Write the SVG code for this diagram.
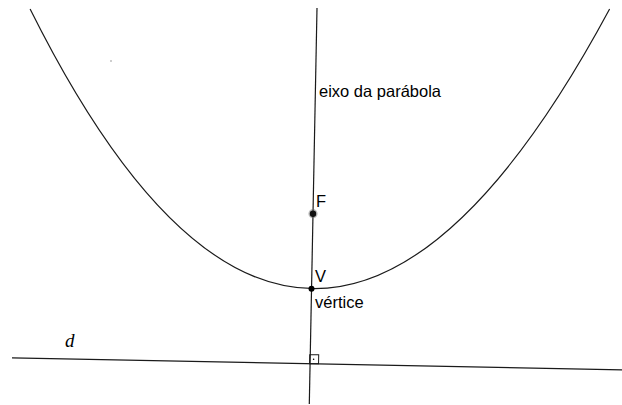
<svg xmlns="http://www.w3.org/2000/svg" width="622" height="405" viewBox="0 0 622 405">
<style>
.ln{fill:none;stroke:#1a1a1a;stroke-width:1.2}
.lbl{font-family:"Liberation Sans",Arial,sans-serif;font-size:16.5px;fill:#000}
.it{font-family:"Liberation Serif","Times New Roman",serif;font-style:italic;font-size:19px;fill:#000}
</style>
<rect width="622" height="405" fill="#fff"/>
<g id="connectors">
<line id="eixo" class="ln" x1="317" y1="8" x2="309.3" y2="404"/>
<line id="diretriz" class="ln" x1="12" y1="357.9" x2="622" y2="369.8" stroke="#333"/>
<path id="parabola" class="ln" transform="translate(311.5,288.7) rotate(1.117)" d="M-286.8,-274.2 Q2.9,279.7 292.6,-285.4"/>
<g id="angulo-reto" transform="translate(311.5,288.7) rotate(1.117)">
<rect x="-0.5" y="66" width="9" height="9" fill="none" stroke="#1a1a1a" stroke-width="1"/>
<circle cx="3.5" cy="70.5" r="0.8" fill="#000"/>
</g>
</g>
<g id="foco">
<circle cx="313" cy="213.7" r="4.6" fill="#666" opacity="0.45"/>
<circle cx="313" cy="213.7" r="3.2" fill="#111"/>
<text class="lbl" x="316" y="207">F</text>
</g>
<g id="vertice">
<circle cx="311.5" cy="288.7" r="3" fill="#000"/>
<text class="lbl" x="315" y="282">V</text>
<text class="lbl" x="315" y="308">vértice</text>
</g>
<g id="rotulo-eixo">
<text class="lbl" x="319" y="97">eixo da parábola</text>
</g>
<g id="rotulo-d">
<text class="it" x="65" y="347">d</text>
</g>
<circle cx="111" cy="61" r="0.7" fill="#777"/>
</svg>
